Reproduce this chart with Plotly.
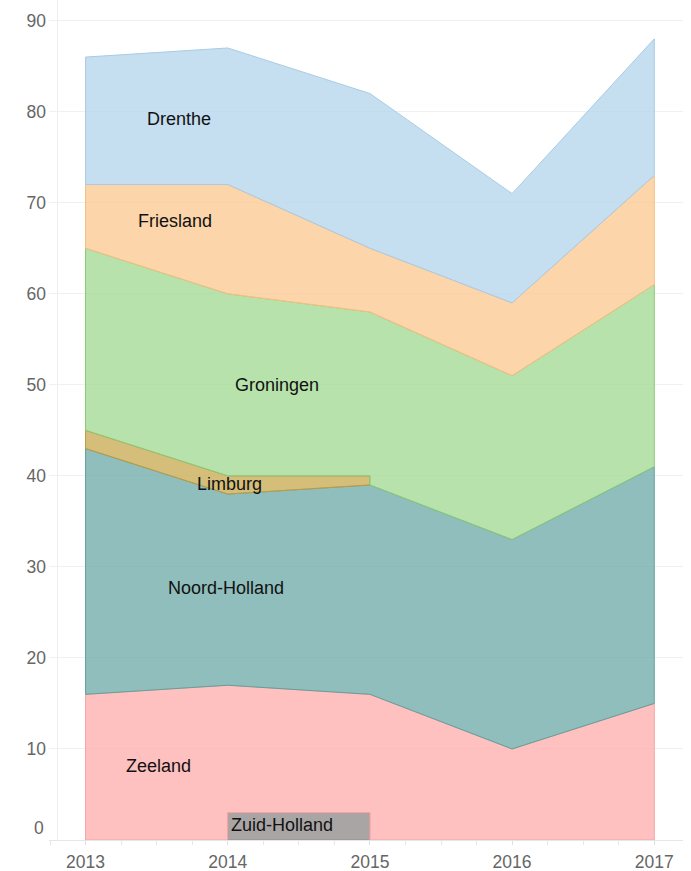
import plotly.graph_objects as go

# ---- data ----
years = [2013, 2014, 2015, 2016, 2017]
# stack order: bottom -> top
series_names = ["Zuid-Holland", "Zeeland", "Noord-Holland", "Limburg",
                "Groningen", "Friesland", "Drenthe"]
zuid_holland = [None, 3, 3, None, None]
zeeland = [16, 14, 13, 10, 15]
noord_holland = [27, 21, 23, 23, 26]
limburg = [2, 2, 1, None, None]
groningen = [20, 20, 18, 18, 20]
friesland = [7, 12, 7, 8, 12]
drenthe = [14, 15, 17, 12, 15]
y_tick_values = [10, 20, 30, 40, 50, 60, 70, 80, 90]

stack = [zuid_holland, zeeland, noord_holland, limburg, groningen, friesland, drenthe]

# ---- styles ----
fill_colors = {
    "Drenthe": "rgba(183,214,236,0.8)",
    "Friesland": "rgba(253,203,149,0.8)",
    "Groningen": "rgba(166,219,151,0.8)",
    "Limburg": "rgba(201,174,89,0.8)",
    "Noord-Holland": "rgba(115,174,171,0.8)",
    "Zeeland": "rgba(255,176,176,0.8)",
    "Zuid-Holland": "rgba(149,143,143,0.8)",
}
line_colors = {
    "Drenthe": "rgb(168,204,230)",
    "Friesland": "rgb(246,190,130)",
    "Groningen": "rgb(138,200,120)",
    "Limburg": "rgb(190,155,65)",
    "Noord-Holland": "rgb(100,160,156)",
    "Zeeland": "rgb(245,165,165)",
    "Zuid-Holland": "rgb(150,140,140)",
}
label_pos = {
    "Drenthe": (2013.66, 79.2),
    "Friesland": (2013.63, 68.0),
    "Groningen": (2014.35, 50.0),
    "Limburg": (2014.01, 39.1),
    "Noord-Holland": (2013.99, 27.7),
    "Zeeland": (2013.51, 8.1),
    "Zuid-Holland": (2014.38, 1.65),
}

# ---- stacking ----
n = len(years)
cum = [0] * n
tops = []
for vals in stack:
    cum = [c + (v if v is not None else 0) for c, v in zip(cum, vals)]
    tops.append([c if v is not None else None for c, v in zip(cum, vals)])

fig = go.Figure()
for k, name in enumerate(series_names):
    idx = [i for i in range(n) if stack[k][i] is not None]
    if len(idx) < 2:
        continue
    i0, i1 = idx[0], idx[-1]
    up_x = [years[i] for i in range(i0, i1 + 1)]
    up_y = [tops[k][i] for i in range(i0, i1 + 1)]
    lo_x, lo_y = [], []
    for i in range(i0, i1):
        bl, br = 0, 0
        for r in range(k - 1, -1, -1):
            if tops[r][i] is not None and tops[r][i + 1] is not None:
                bl, br = tops[r][i], tops[r][i + 1]
                break
        lo_x += [years[i], years[i + 1]]
        lo_y += [bl, br]
    px = up_x + lo_x[::-1] + [up_x[0]]
    py = up_y + lo_y[::-1] + [up_y[0]]
    fig.add_trace(go.Scatter(
        x=px, y=py, mode="lines", fill="toself",
        fillcolor=fill_colors[name],
        line=dict(color=line_colors[name], width=1),
        name=name, hoverinfo="skip", showlegend=False,
    ))

for name in series_names:
    lx, ly = label_pos[name]
    fig.add_annotation(x=lx, y=ly, xref="x", yref="y", text=name,
                       showarrow=False,
                       font=dict(family="Liberation Sans, Arial, sans-serif",
                                 size=18, color="#111"))

# "0" tick label sits above the axis line
fig.add_annotation(x=0, y=0, xref="paper", yref="y", text="0", showarrow=False,
                   xanchor="right", yanchor="middle", xshift=-3, yshift=12,
                   font=dict(family="Liberation Sans, Arial, sans-serif",
                             size=17.5, color="#666"))

# left vertical rule
fig.add_shape(type="line", xref="paper", yref="paper", x0=0.0134, x1=0.0134,
              y0=0, y1=1, line=dict(color="#eeeeee", width=1), layer="below")

fig.update_layout(
    width=691, height=871,
    margin=dict(l=49, r=8, t=0, b=31),
    paper_bgcolor="white", plot_bgcolor="white",
    font=dict(family="Liberation Sans, Arial, sans-serif", size=17.5, color="#666"),
    showlegend=False,
    xaxis=dict(
        range=[2012.743, 2017.202],
        tickmode="linear", tick0=2013, dtick=1, tickformat="d",
        showgrid=False, zeroline=False,
        showline=True, linecolor="#e6e6e6", linewidth=1,
        ticks="outside", ticklen=4, tickcolor="#e0e0e0",
        minor=dict(tickmode="linear", tick0=2013, dtick=0.25, ticks="outside",
                   ticklen=4, tickcolor="#e6e6e6", showgrid=False),
        tickfont=dict(size=17.5, color="#666"),
        ticklabelstandoff=2,
    ),
    yaxis=dict(
        range=[0, 92.27],
        tickmode="array", tickvals=y_tick_values,
        ticktext=[str(v) for v in y_tick_values],
        showgrid=True, gridcolor="#f0f0f0", gridwidth=1,
        zeroline=False, showline=False, ticks="",
        tickfont=dict(size=17.5, color="#666"),
        ticklabelstandoff=2,
    ),
)

fig.write_html("out.html",
               config={"displayModeBar": False},
               post_script="document.body.style.margin='0';document.body.style.overflow='hidden';")
